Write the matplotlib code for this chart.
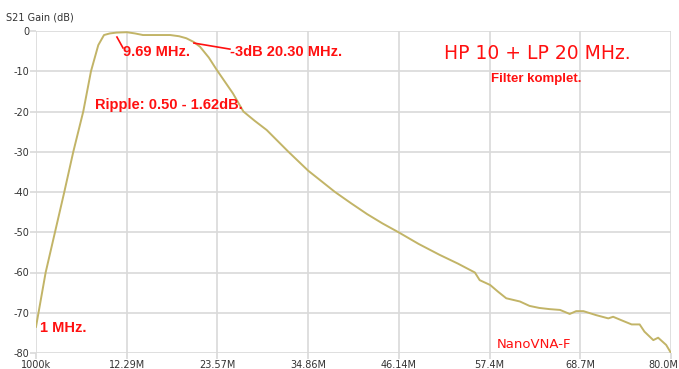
import numpy as np
import matplotlib
matplotlib.use("Agg")
import matplotlib.pyplot as plt
import matplotlib.transforms as mtransforms

plt.rcParams["axes.unicode_minus"] = False

# S21 sweep, 1 MHz .. 80 MHz (frequency in MHz, gain in dB)
freq_mhz = [1.0, 2.2, 3.36, 4.52, 5.64, 6.88, 7.84, 8.75, 9.46, 10.2, 11.0, 12.3,
            13.3, 14.3, 16.0, 17.7, 18.8, 19.7, 20.6, 21.4, 22.5, 23.5, 24.5,
            25.5, 26.8, 28.2, 29.7, 31.1, 32.4, 34.86, 36.5, 38.2, 40.2, 42.2,
            44.1, 46.1, 48.6, 51.2, 53.5, 55.6, 56.2, 57.5, 58.5, 59.5, 61.2,
            62.4, 63.6, 64.9, 66.2, 67.4, 68.2, 69.1, 70.7, 72.2, 72.8, 74.0,
            75.1, 76.1, 76.7, 77.8, 78.4, 79.4, 80.0]
gain_db = [-73.5, -60.0, -50.0, -40.0, -30.0, -20.0, -10.0, -3.5, -1.0, -0.6,
           -0.4, -0.3, -0.6, -1.0, -1.0, -1.0, -1.3, -1.8, -2.7, -3.9, -6.6,
           -9.7, -12.6, -15.5, -20.0, -22.3, -24.6, -27.4, -30.0, -34.7, -37.3,
           -40.0, -42.8, -45.5, -47.8, -50.0, -52.9, -55.6, -57.8, -60.0,
           -61.9, -63.1, -64.8, -66.4, -67.2, -68.3, -68.8, -69.1, -69.3,
           -70.3, -69.6, -69.6, -70.6, -71.4, -71.0, -72.0, -72.9, -72.9,
           -74.7, -76.8, -76.2, -78.0, -80.0]

x_ticks = np.linspace(1.0, 80.0, 8)
x_labels = ["1000k", "12.29M", "23.57M", "34.86M", "46.14M", "57.4M", "68.7M", "80.0M"]
y_ticks = np.arange(-80, 1, 10)

red = "#ff1010"
grid_col = "#d9d9d9"
note_font = ["Liberation Sans", "DejaVu Sans"]

fig = plt.figure(figsize=(6.79, 3.69), dpi=100)
ax = fig.add_axes([36 / 679, 1 - 353 / 369, 635 / 679, 322 / 369])

ax.plot(freq_mhz, gain_db, color="#c2b467", lw=1.4, solid_joinstyle="round")

ax.set_xlim(1, 80)
ax.set_ylim(-80, 0)
ax.set_xticks(x_ticks)
ax.set_xticklabels(x_labels)
ax.set_yticks(y_ticks)
ax.grid(True, color=grid_col, lw=1.2)
ax.set_axisbelow(True)
for s in ax.spines.values():
    s.set_visible(False)
ax.tick_params(axis="both", length=4, width=1.2, color=grid_col,
               labelsize=7, labelcolor="#333333", pad=1)
# keep the last frequency label inside the figure
last = ax.get_xticklabels()[-1]
last.set_transform(last.get_transform() +
                   mtransforms.ScaledTranslation(-8 / 100, 0, fig.dpi_scale_trans))
ax.text(-0.047, 1.025, "S21 Gain (dB)", transform=ax.transAxes,
        fontsize=7, color="#333333", ha="left", va="bottom")

# marker notes
bold = dict(color=red, fontweight="bold", fontsize=10.5, va="center", ha="left",
            family=note_font)
ax.plot([11.07, 11.82], [-1.5, -4.2], color=red, lw=1.2)
ax.text(11.82, -5.2, "9.69 MHz.", **bold)
ax.plot([20.65, 25.13], [-3.0, -4.5], color=red, lw=1.2)
ax.text(25.13, -5.2, "-3dB 20.30 MHz.", **bold)
ax.text(8.34, -18.4, "Ripple: 0.50 - 1.62dB.", **bold)
ax.text(1.5, -73.8, "1 MHz.", **bold)
ax.text(63.4, -5.5, "HP 10 + LP 20 MHz.", color=red, fontsize=13.5,
        ha="center", va="center")
ax.text(63.2, -11.9, "Filter komplet.", color=red, fontsize=9.5,
        fontweight="bold", ha="center", va="center", family=note_font)
ax.text(58.3, -78.0, "NanoVNA-F", color=red, fontsize=9.5,
        ha="left", va="center")

fig.savefig("out.png", dpi=100)
